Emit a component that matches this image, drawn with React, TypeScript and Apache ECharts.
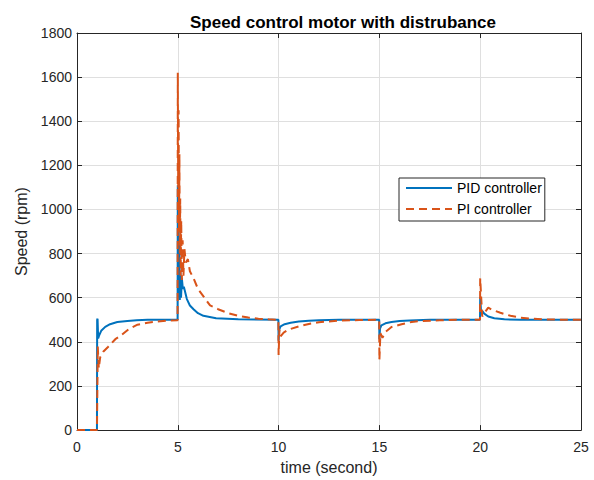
import React, { useEffect, useRef } from "react";
import * as echarts from "echarts";

// PID controller response: time (s) and speed (rpm)
const pidTime = [
  0, 0.99, 1.0, 1.02, 1.05, 1.1, 1.2, 1.4, 1.64, 2.0, 2.5, 2.96, 3.5, 4.99,
  5.0, 5.02, 5.04, 5.06, 5.08, 5.1, 5.13, 5.16, 5.2, 5.25, 5.3, 5.45, 5.6, 5.78, 6.0, 6.27, 6.9, 8.0, 9.99,
  10.0, 10.03, 10.1, 10.3, 10.6, 11.0, 11.5, 12.0, 13.0, 14.99,
  15.0, 15.03, 15.1, 15.3, 15.6, 16.0, 16.5, 17.5, 19.99,
  20.0, 20.05, 20.1, 20.2, 20.4, 20.7, 21.2, 22.0, 25.0,
];
const pidSpeed = [
  0, 0, 500, 505, 415, 430, 450, 468, 480, 490, 495, 498, 500, 500,
  1110, 620, 1000, 600, 850, 590, 720, 600, 690, 640, 650, 594, 565, 548, 530, 518, 507, 502, 500,
  405, 455, 470, 480, 487, 492, 496, 498, 500, 500,
  412, 460, 475, 484, 490, 494, 497, 500, 500,
  603, 525, 540, 528, 515, 507, 502, 500, 500,
];

// PI controller response: time (s) and speed (rpm)
const piTime = [
  0, 0.99, 1.0, 1.03, 1.08, 1.15, 1.3, 1.55, 1.9, 2.2, 2.6, 3.0, 3.5, 4.0, 4.5, 4.99,
  5.0, 5.02, 5.04, 5.06, 5.08, 5.1, 5.12, 5.14, 5.17, 5.2, 5.24, 5.28, 5.33, 5.4, 5.5, 5.6, 5.8, 6.0, 6.3, 6.6, 7.0, 7.5, 8.0, 8.5, 9.0, 9.5, 9.99,
  10.0, 10.04, 10.1, 10.25, 10.5, 11.0, 11.5, 12.0, 13.0, 14.0, 14.99,
  15.0, 15.05, 15.15, 15.3, 15.6, 16.1, 16.6, 17.0, 18.0, 19.0, 19.99,
  20.0, 20.05, 20.1, 20.2, 20.4, 20.6, 21.0, 21.5, 22.0, 22.5, 23.5, 25.0,
];
const piSpeed = [
  0, 0, 0, 380, 280, 330, 355, 378, 412, 430, 460, 478, 487, 492, 496, 498,
  1620, 1100, 1450, 900, 1250, 800, 1050, 700, 950, 680, 860, 700, 820, 760, 775, 720, 684, 640, 603, 565, 548, 530, 518, 510, 505, 502, 500,
  340, 455, 425, 442, 456, 470, 481, 489, 496, 499, 500,
  318, 440, 418, 445, 467, 480, 490, 494, 498, 500, 500,
  688, 600, 515, 530, 555, 545, 532, 518, 510, 505, 501, 500,
];

const seriesNames = ["PID controller", "PI controller"];
const chartTitle = "Speed control motor with distrubance";
const xName = "time (second)";
const yName = "Speed (rpm)";

const FONT = "'Liberation Sans', Arial, Helvetica, sans-serif";
const AX = "#262626";

export default function App() {
  const ref = useRef<HTMLDivElement>(null);
  useEffect(() => {
    if (!ref.current) return;
    const chart = echarts.init(ref.current, undefined, { renderer: "svg" });
    const pid = pidTime.map((t, i) => [t, pidSpeed[i]]);
    const pi = piTime.map((t, i) => [t, piSpeed[i]]);
    const axisCommon = {
      axisLine: { show: true, onZero: false, lineStyle: { color: AX, width: 1 } },
      axisTick: { show: true, inside: true, length: 5, lineStyle: { color: AX } },
    };
    chart.setOption({
      animation: false,
      backgroundColor: "#fff",
      textStyle: { fontFamily: FONT },
      title: {
        text: chartTitle,
        left: 338,
        textAlign: "center",
        top: 9,
        textStyle: { fontFamily: FONT, fontSize: 17, fontWeight: "bold", color: "#000" },
      },
      grid: { left: 77, right: 13, top: 33, bottom: 49, containLabel: false },
      legend: {
        orient: "vertical",
        left: 399,
        top: 178,
        padding: [3, 3, 5, 6],
        itemGap: 7,
        itemWidth: 46,
        itemHeight: 14,
        backgroundColor: "#fff",
        borderColor: "#262626",
        borderWidth: 1,
        borderRadius: 0,
        itemStyle: { opacity: 0 },
        textStyle: { fontFamily: FONT, fontSize: 14, color: "#000" },
        data: seriesNames,
      },
      xAxis: [
        {
          type: "value",
          min: 0,
          max: 25,
          interval: 5,
          name: xName,
          nameLocation: "middle",
          nameGap: 28,
          nameTextStyle: { fontFamily: FONT, fontSize: 16, color: AX },
          ...axisCommon,
          axisLabel: { fontFamily: FONT, fontSize: 14, color: AX, margin: 10, formatter: (v: number) => String(v) },
          splitLine: { show: true, lineStyle: { color: "#dfdfdf", width: 1 } },
        },
        {
          type: "value",
          position: "top",
          min: 0,
          max: 25,
          interval: 5,
          ...axisCommon,
          axisLabel: { show: false },
          splitLine: { show: false },
        },
      ],
      yAxis: [
        {
          type: "value",
          min: 0,
          max: 1800,
          interval: 200,
          name: yName,
          nameLocation: "middle",
          nameGap: 46,
          nameTextStyle: { fontFamily: FONT, fontSize: 16, color: AX },
          ...axisCommon,
          axisLabel: { fontFamily: FONT, fontSize: 14, color: AX, margin: 5, formatter: (v: number) => String(v) },
          splitLine: { show: true, lineStyle: { color: "#dfdfdf", width: 1 } },
        },
        {
          type: "value",
          position: "right",
          min: 0,
          max: 1800,
          interval: 200,
          ...axisCommon,
          axisLabel: { show: false },
          splitLine: { show: false },
        },
      ],
      series: [
        {
          name: seriesNames[0],
          type: "line",
          data: pid,
          showSymbol: false,
          symbol: "none",
          lineStyle: { color: "#0072BD", width: 2 },
          itemStyle: { color: "#0072BD" },
          z: 2,
        },
        {
          name: seriesNames[1],
          type: "line",
          data: pi,
          showSymbol: false,
          symbol: "none",
          lineStyle: { color: "#D95319", width: 2, type: [8, 5] },
          itemStyle: { color: "#D95319" },
          z: 3,
        },
      ],
    });
    return () => chart.dispose();
  }, []);
  return <div ref={ref} style={{ width: 594, height: 480, position: "fixed", left: 0, top: 0 }} />;
}
